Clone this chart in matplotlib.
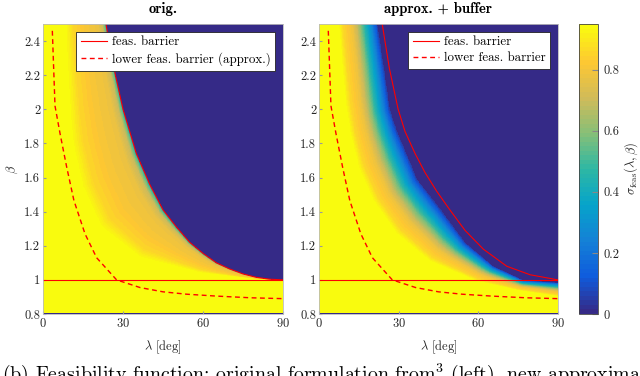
import numpy as np
import matplotlib
matplotlib.use('Agg')
import matplotlib.pyplot as plt
from matplotlib.colors import LinearSegmentedColormap
from matplotlib.ticker import FormatStrFormatter

plt.rcParams['font.family'] = 'cmr10'
plt.rcParams['mathtext.fontset'] = 'cm'
plt.rcParams['axes.formatter.use_mathtext'] = True

# curves (lambda in deg, beta)
lam_barrier_orig = [23.6, 26, 30, 35, 40, 45, 50, 55, 60, 65, 70, 75, 80, 85, 90]
beta_barrier_orig = [2.50, 2.28, 2.00, 1.74, 1.56, 1.41, 1.31, 1.22, 1.155, 1.10, 1.064, 1.035, 1.015, 1.004, 1.00]

lam_barrier_buf = [23.8, 26.5, 29.8, 32.4, 36.2, 39.9, 44.3, 49.3, 55.0, 61.9, 70.7, 79.5, 90]
beta_barrier_buf = [2.50, 2.24, 2.00, 1.87, 1.74, 1.63, 1.52, 1.41, 1.29, 1.18, 1.08, 1.03, 1.00]

lam_lower = [3.5, 4.5, 6.4, 8.9, 11.6, 15.75, 20.1, 27.6, 36.4, 45, 53.9, 65, 78, 90]
beta_lower = [2.46, 2.02, 1.857, 1.66, 1.465, 1.27, 1.13, 1.00, 0.955, 0.93, 0.916, 0.905, 0.895, 0.89]

lam_unit = [0, 90]
beta_unit = [1, 1]

# where sigma starts to drop (yellow edge) and where it hits zero
lam_yel_orig = [8.25, 9.5, 10.8, 14.5, 21.4, 36.4, 58.9, 81.4, 90]
beta_yel_orig = [2.50, 2.05, 1.80, 1.545, 1.31, 1.13, 1.043, 1.004, 1.0]

lam_yel_buf = [7.3, 9.8, 11.7, 14.8, 20.4, 29.2, 41.8, 59.4, 75, 90]
beta_yel_buf = [2.50, 2.05, 1.857, 1.66, 1.465, 1.27, 1.11, 0.994, 0.94, 0.905]

lam_zero_buf = [22.0, 26.7, 29.3, 37, 46.2, 55, 65.6, 76.9, 90]
beta_zero_buf = [2.50, 2.0, 1.876, 1.59, 1.406, 1.22, 1.082, 1.0, 0.985]

# sigma profile across the transition band (0 = yellow edge, 1 = zero edge)
s_orig = [0, 0.2, 0.5, 0.8, 0.92, 0.97, 1.0]
sig_orig = [0.95, 0.86, 0.81, 0.78, 0.7, 0.55, 0.42]
s_buf = [0, 0.12, 0.35, 0.47, 0.58, 0.68, 0.83, 1.0]
sig_buf = [0.95, 0.86, 0.79, 0.7, 0.58, 0.45, 0.28, 0.05]

parula_hex = ["#352a87", "#0f5cdd", "#1481d6", "#06a4ca", "#2eb7a4",
              "#87bf77", "#d1bb59", "#fec832", "#f9fb0e"]
parula = LinearSegmentedColormap.from_list('parula', parula_hex, N=64)

nl, nb = 540, 580
lam = (np.arange(nl) + 0.5) * 90 / nl
beta = 0.8 + (np.arange(nb) + 0.5) * 1.7 / nb
L, B = np.meshgrid(lam, beta)
PX, PY = L / 90 * 240, (B - 0.8) / 1.7 * 290


def dist(cl, cb):
    cx = np.asarray(cl) / 90 * 240
    cy = (np.asarray(cb) - 0.8) / 1.7 * 290
    d = np.full(PX.shape, np.inf)
    for i in range(len(cx) - 1):
        vx, vy = cx[i+1] - cx[i], cy[i+1] - cy[i]
        t = np.clip(((PX - cx[i]) * vx + (PY - cy[i]) * vy) / (vx*vx + vy*vy), 0, 1)
        d = np.minimum(d, np.hypot(PX - cx[i] - t*vx, PY - cy[i] - t*vy))
    return d


def field(yl, yb, zl, zb, sp, sv):
    in_y = B < np.interp(L, yl, yb, left=10.0)
    in_z = B < np.interp(L, zl, zb, left=10.0)
    dy, dz = dist(yl, yb), dist(zl, zb)
    sig = np.interp(dy / (dy + dz + 1e-9), sp, sv)
    sig = np.where(in_y, sv[0], sig)
    sig = np.where(in_z, sig, 0.0)
    sig[B < 0.807] = 0.0
    return sig


F_orig = field(lam_yel_orig, beta_yel_orig, lam_barrier_orig, beta_barrier_orig, s_orig, sig_orig)
F_buf = field(lam_yel_buf, beta_yel_buf, lam_zero_buf, beta_zero_buf, s_buf, sig_buf)

fig = plt.figure(figsize=(6.4, 3.76), dpi=100)
ax1 = fig.add_axes([43/640, 62/376, 240/640, 290/376])
ax2 = fig.add_axes([319/640, 62/376, 239/640, 290/376])
cax = fig.add_axes([579/640, 62/376, 19/640, 290/376])

tc = '#262626'
panels = [(ax1, F_orig, 'orig.', lam_barrier_orig, beta_barrier_orig, 'lower feas. barrier (approx.)'),
          (ax2, F_buf, 'approx. + buffer', lam_barrier_buf, beta_barrier_buf, 'lower feas. barrier')]
for ax, F, title, bl, bb, lowlab in panels:
    im = ax.imshow(F, origin='lower', extent=[0, 90, 0.8, 2.5], aspect='auto',
                   cmap=parula, vmin=0, vmax=0.95, interpolation='nearest')
    ax.plot(bl, bb, color='red', lw=0.8, label='feas. barrier')
    ax.plot(lam_unit, beta_unit, color='red', lw=0.8)
    ax.plot(lam_lower, beta_lower, color='red', lw=1.0, ls=(0, (3.5, 2.5)), label=lowlab)
    ax.set_xlim(0, 90)
    ax.set_ylim(0.8, 2.5)
    ax.set_xticks([0, 30, 60, 90])
    ax.set_yticks([0.8, 1.0, 1.2, 1.4, 1.6, 1.8, 2.0, 2.2, 2.4])
    ax.yaxis.set_major_formatter(FormatStrFormatter('%g'))
    ax.tick_params(direction='in', length=2.5, color='#999999', labelsize=9, labelcolor=tc, pad=2)
    for sp in ax.spines.values():
        sp.set_color('#bbbbbb')
        sp.set_linewidth(0.6)
    ax.set_title(title, fontfamily='cmb10', fontsize=10.5, pad=8)
    ax.set_xlabel(r'$\lambda$ [deg]', fontsize=9, color=tc, labelpad=6)
    leg = ax.legend(loc='upper right', fontsize=9.3, fancybox=False, framealpha=1,
                    edgecolor='#222222', handlelength=2.0, borderaxespad=0.6,
                    borderpad=0.35, labelspacing=0.3, handletextpad=0.4)
    leg.get_frame().set_linewidth(0.6)

ax1.set_ylabel(r'$\beta$', fontsize=9, color=tc, labelpad=3)

cb = fig.colorbar(im, cax=cax)
cb.set_ticks([0, 0.2, 0.4, 0.6, 0.8])
cb.ax.yaxis.set_major_formatter(FormatStrFormatter('%g'))
cb.ax.tick_params(direction='in', length=4, color='#888888', labelsize=9, labelcolor=tc, pad=4)
cb.outline.set_edgecolor('#444444')
cb.outline.set_linewidth(0.6)
cb.set_label(r'$\sigma_{\rm feas}(\lambda,\beta)$', fontsize=9, color=tc, labelpad=2)

fig.text(0.003, 1 - 361/376, r'(b) Feasibility function: original formulation from$^3$ (left), new approximation with buffer (right).',
         fontsize=14.3, va='top', ha='left')

fig.savefig('out.png', dpi=100)
